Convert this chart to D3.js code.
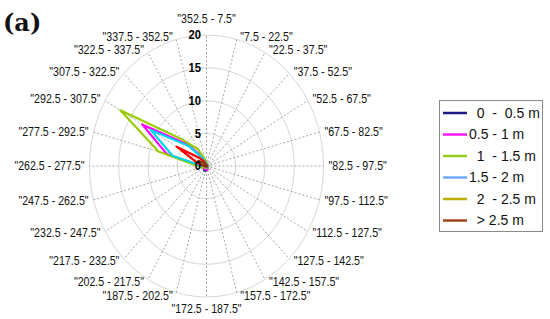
<!DOCTYPE html>
<html><head><meta charset="utf-8">
<script src="https://cdn.jsdelivr.net/npm/d3@7"></script>
<style>body{margin:0;background:#fff}svg{display:block}</style>
</head><body>
<svg id="chart" width="550" height="319"></svg>
<script>
// ---- data ----
const directionLabels = ["\"352.5 - 7.5\"","\"7.5 - 22.5\"","\"22.5 - 37.5\"","\"37.5 - 52.5\"","\"52.5 - 67.5\"","\"67.5 - 82.5\"","\"82.5 - 97.5\"","\"97.5 - 112.5\"","\"112.5 - 127.5\"","\"127.5 - 142.5\"","\"142.5 - 157.5\"","\"157.5 - 172.5\"","\"172.5 - 187.5\"","\"187.5 - 202.5\"","\"202.5 - 217.5\"","\"217.5 - 232.5\"","\"232.5 - 247.5\"","\"247.5 - 262.5\"","\"262.5 - 277.5\"","\"277.5 - 292.5\"","\"292.5 - 307.5\"","\"307.5 - 322.5\"","\"322.5 - 337.5\"","\"337.5 - 352.5\""];
const directionAngles = [0,15,30,45,60,75,90,105,120,135,150,165,180,195,210,225,240,255,270,285,300,315,330,345];
const radialTicks = [0,5,10,15,20];
const seriesNames = ["  0  -  0.5 m","0.5 - 1 m","  1  - 1.5 m","1.5 - 2 m","  2  - 2.5 m","  > 2.5 m"];
const s0 = [0.2,0.2,0.2,0.2,0.2,0.2,0.2,0.2,0.2,0.3,0.3,0.4,0.6,0.8,0.8,0.5,0.3,0.2,0.2,0.2,0.2,0.2,0.2,0.2];
const s1 = [0.4,0.3,0.3,0.3,0.3,0.3,0.3,0.3,0.3,0.3,0.4,0.5,0.6,0.5,0.5,0.4,0.5,0.8,1.2,7.0,12.7,4.7,1.8,0.7];
const s2 = [0.5,0.3,0.3,0.3,0.3,0.3,0.3,0.3,0.3,0.3,0.3,0.3,0.3,0.3,0.3,0.3,0.4,0.8,1.5,8.5,17.0,5.6,3.0,1.0];
const s3 = [0.3,0.2,0.2,0.2,0.2,0.2,0.2,0.2,0.2,0.2,0.2,0.2,0.2,0.2,0.2,0.2,0.2,0.3,0.8,6.0,11.0,4.3,1.5,0.5];
const s4 = [0.1,0.1,0.1,0.1,0.1,0.1,0.1,0.1,0.1,0.1,0.1,0.1,0.1,0.1,0.1,0.1,0.1,0.2,0.5,1.5,5.9,1.8,0.8,0.2];
const s5 = [0.1,0.1,0.1,0.1,0.1,0.1,0.1,0.1,0.1,0.1,0.1,0.1,0.1,0.1,0.1,0.1,0.1,0.1,0.3,1.0,1.6,0.8,0.3,0.1];
const seriesValues = [s0,s1,s2,s3,s4,s5];

// ---- styles ----
const plotColors = ["#3b2f9e","#ff00ff","#99cc00","#00d4ee","#ff0000","#8b3510"];
const legendColors = ["#1a1a80","#ff19ff","#99cc22","#6fa8ff","#bfae00","#a0441c"];

const svg = d3.select("#chart");
const cx = 206.5, cy = 166, rx = 117, ry = 131;
const r = d3.scaleLinear().domain([0,20]).range([0,1]);
const rad = a => a*Math.PI/180;
const px = (v,a) => cx + rx*r(v)*Math.sin(rad(a));
const py = (v,a) => cy - ry*r(v)*Math.cos(rad(a));

// grid circles
svg.append("g").selectAll("ellipse").data(radialTicks.filter(d=>d>0)).join("ellipse")
  .attr("cx",cx).attr("cy",cy).attr("rx",d=>rx*r(d)).attr("ry",d=>ry*r(d))
  .attr("fill","none").attr("stroke","#d6d6d6").attr("stroke-width",1);
// spokes
svg.append("g").selectAll("line").data(directionAngles).join("line")
  .attr("x1",cx).attr("y1",cy).attr("x2",a=>px(20,a)).attr("y2",a=>py(20,a))
  .attr("stroke","#a8a8a8").attr("stroke-width",1).attr("stroke-dasharray","2,2");

// series
const line = d3.line().curve(d3.curveLinearClosed);
svg.append("g").selectAll("path").data(seriesValues).join("path")
  .attr("d",vals=>line(vals.map((v,i)=>[px(v,directionAngles[i]),py(v,directionAngles[i])])))
  .attr("fill","none").attr("stroke",(d,i)=>plotColors[i]).attr("stroke-width",2.2)
  .attr("stroke-linejoin","round");

// radial tick labels
svg.append("g").selectAll("text").data(radialTicks).join("text")
  .attr("transform",d=>`translate(201,${py(d,0)}) scale(0.9,1)`)
  .attr("dy","0.35em").attr("text-anchor","end")
  .style("font-family","Liberation Sans, Arial, sans-serif").style("font-weight","bold").style("font-size","12.5px")
  .attr("fill","#000").text(d=>d);

// direction labels
const lg = svg.append("g").selectAll("g").data(directionAngles).join("g")
  .attr("transform",(a,i)=>{
    const s = Math.sin(rad(a)), c = Math.cos(rad(a));
    let x, y;
    if (Math.abs(s) < 0.01) { x = cx; y = cy - (c > 0 ? 147 : 143)*c; }
    else { x = cx + Math.sign(s)*3 + 119*s; y = cy - 134*c; }
    return `translate(${x},${y}) scale(0.85,1)`;
  });
lg.append("text")
  .attr("text-anchor",a=>{const s=Math.sin(rad(a)); return Math.abs(s)<0.01?"middle":(s>0?"start":"end");})
  .attr("dy","0.35em")
  .style("font-family","Liberation Sans, Arial, sans-serif").style("font-size","12.5px")
  .attr("fill","#111").text((a,i)=>directionLabels[i]);

// panel label
svg.append("text").attr("x",3).attr("y",31)
  .style("font-family","DejaVu Serif, serif").style("font-weight","bold").style("font-size","24px")
  .attr("fill","#111").text("(a)");

// legend
const leg = svg.append("g");
leg.append("rect").attr("x",439.5).attr("y",100.5).attr("width",103).attr("height",131)
  .attr("fill","#fff").attr("stroke","#8a8a8a").attr("stroke-width",1);
const rows = leg.selectAll("g").data(seriesNames).join("g")
  .attr("transform",(d,i)=>`translate(0,${113 + i*21.5})`);
rows.append("line").attr("x1",443).attr("x2",467).attr("y1",0).attr("y2",0)
  .attr("stroke",(d,i)=>legendColors[i]).attr("stroke-width",2.5);
rows.append("text").attr("x",469).attr("dy","0.35em")
  .attr("xml:space","preserve").style("white-space","pre")
  .style("font-family","Liberation Sans, Arial, sans-serif").style("font-size","14px")
  .attr("fill","#111").text(d=>d);
</script>
</body></html>
